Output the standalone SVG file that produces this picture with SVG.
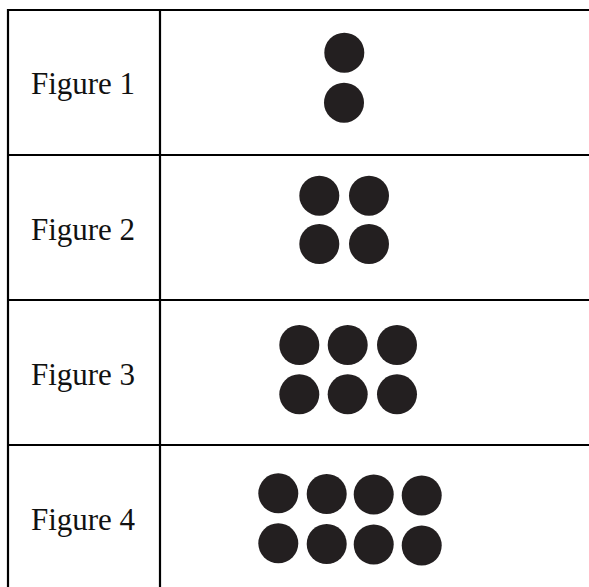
<svg xmlns="http://www.w3.org/2000/svg" width="589" height="587" viewBox="0 0 589 587">
<style>
.grid{stroke:#000;stroke-width:2.2;fill:none}
.lbl{font-family:"Liberation Serif","Times New Roman",serif;font-size:31px;fill:#111;text-anchor:middle}
.dot{fill:#231f20}
</style>
<rect width="589" height="587" fill="#fff"/>
<g id="grid">
<path class="grid" d="M7 10H589M8 9V587M160 9V587M7 155H589M7 300H589M7 445H589"/>
</g>
<g id="row1">
<text class="lbl" x="83" y="94">Figure 1</text>
<circle class="dot" cx="344.3" cy="52.7" r="20"/>
<circle class="dot" cx="344" cy="102.7" r="20"/>
</g>
<g id="row2">
<text class="lbl" x="83" y="240">Figure 2</text>
<circle class="dot" cx="319.3" cy="195.7" r="20"/>
<circle class="dot" cx="369" cy="195.7" r="20"/>
<circle class="dot" cx="319.3" cy="244" r="20"/>
<circle class="dot" cx="369" cy="244" r="20"/>
</g>
<g id="row3">
<text class="lbl" x="83" y="385">Figure 3</text>
<circle class="dot" cx="299.3" cy="345" r="20"/>
<circle class="dot" cx="347.7" cy="345" r="20"/>
<circle class="dot" cx="397" cy="345" r="20"/>
<circle class="dot" cx="299.3" cy="394.3" r="20"/>
<circle class="dot" cx="347.7" cy="394.3" r="20"/>
<circle class="dot" cx="397" cy="394.3" r="20"/>
</g>
<g id="row4">
<text class="lbl" x="83" y="529.5">Figure 4</text>
<circle class="dot" cx="278.3" cy="493.3" r="20"/>
<circle class="dot" cx="326.7" cy="494" r="20"/>
<circle class="dot" cx="373.7" cy="494.5" r="20"/>
<circle class="dot" cx="421.7" cy="495.5" r="20"/>
<circle class="dot" cx="278.3" cy="543.3" r="20"/>
<circle class="dot" cx="326.7" cy="544" r="20"/>
<circle class="dot" cx="373.7" cy="544.5" r="20"/>
<circle class="dot" cx="421.7" cy="545.5" r="20"/>
</g>
</svg>
